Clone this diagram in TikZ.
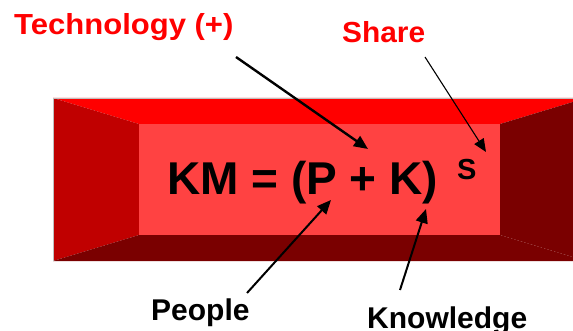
\documentclass[tikz,border=0pt]{standalone}
\usepackage{fontspec}
\setmainfont{Liberation Sans}
\usetikzlibrary{arrows.meta}
\definecolor{topface}{RGB}{255,0,0}
\definecolor{leftface}{RGB}{192,0,0}
\definecolor{darkface}{RGB}{122,0,0}
\definecolor{innerface}{RGB}{255,66,66}
\definecolor{redtext}{RGB}{255,0,0}
\tikzset{
  lbl/.style={inner sep=0pt, anchor=base west, font=\bfseries\fontsize{30}{30}\selectfont},
  redlbl/.style={lbl, text=redtext, font=\bfseries\fontsize{29}{29}\selectfont},
  ptr/.style={draw=black, line width=2pt, -{Triangle[length=14pt,width=12pt]}},
  thinptr/.style={draw=black, line width=1.1pt, -{Triangle[length=13pt,width=11pt]}}
}
\begin{document}
\begin{tikzpicture}[x=1pt,y=-1pt]
\useasboundingbox (0,0) rectangle (573,331);
\begin{scope}
\clip (0,0) rectangle (573,331);
% outer faces
\fill[topface] (53,98) -- (586,98) -- (500,124) -- (139,124) -- cycle;
\fill[leftface] (53,98) -- (139,124) -- (139,235) -- (53,261) -- cycle;
\fill[darkface] (53,261) -- (139,235) -- (500,235) -- (586,261) -- cycle;
\fill[darkface] (586,98) -- (586,261) -- (500,235) -- (500,124) -- cycle;
\draw[black!25, line width=0.6pt] (53,261) -- (53,98) -- (586,98);
\fill[innerface] (139,124) rectangle (500,235);
\end{scope}
% texts
\node[redlbl, xscale=1.07] (tech) at (14,35) {Technology (+)};
\node[redlbl, xscale=1.03] (share) at (342,43) {Share};
\node[lbl, font=\bfseries\fontsize{46}{46}\selectfont] (km) at (167,195) {KM = (P + K)};
\node[lbl, font=\bfseries\fontsize{29}{29}\selectfont] (s) at (457,180) {S};
\node[lbl] (people) at (151,320) {People};
\node[lbl] (know) at (367,328) {Knowledge};
% arrow end points
\coordinate (techA) at (236,57);
\coordinate (techB) at (368,149);
\coordinate (shareA) at (425,57);
\coordinate (shareB) at (486,152);
\coordinate (peopleA) at (247,293);
\coordinate (peopleB) at (331,200);
\coordinate (knowA) at (400,290);
\coordinate (knowB) at (426,209);
\draw[ptr, line width=2.4pt] (techA) -- (techB);
\draw[thinptr] (shareA) -- (shareB);
\draw[ptr] (peopleA) -- (peopleB);
\draw[ptr] (knowA) -- (knowB);
\end{tikzpicture}
\end{document}
